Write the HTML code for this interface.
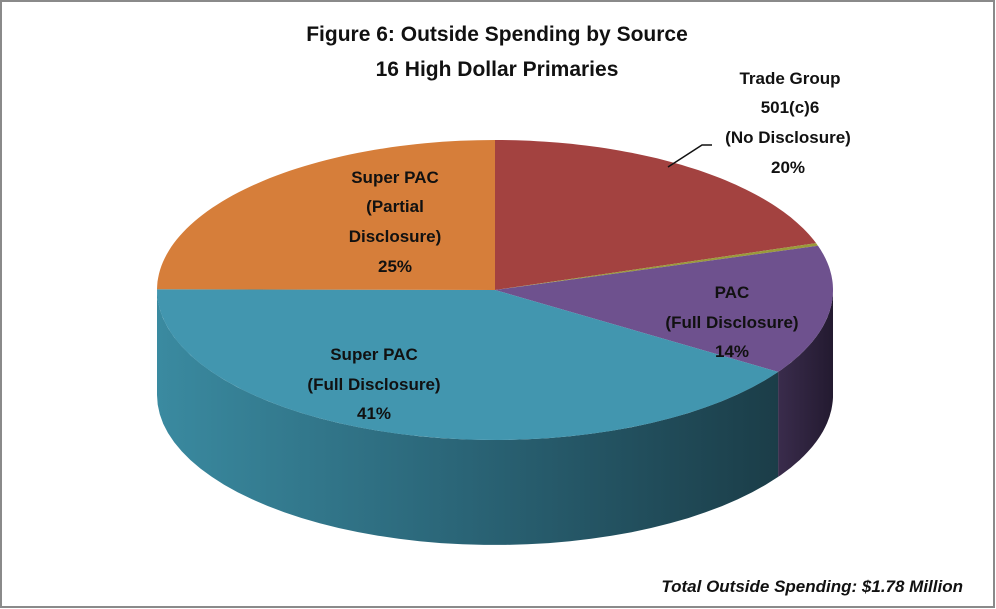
<!DOCTYPE html>
<html><head><meta charset="utf-8">
<style>
html,body{margin:0;padding:0;background:#fff;}
svg{display:block;font-family:"Liberation Sans",sans-serif;}
</style></head>
<body>
<svg id="chart" width="996" height="609" viewBox="0 0 996 609">
  <defs>
    <linearGradient id="gTeal" x1="0" x2="1" y1="0" y2="0">
      <stop offset="0" stop-color="#3a8aa0"/>
      <stop offset="0.5" stop-color="#2a6476"/>
      <stop offset="1" stop-color="#1b3d48"/>
    </linearGradient>
    <linearGradient id="gPurple" x1="0" x2="1"><stop offset="0" stop-color="#3a2c4c"/><stop offset="1" stop-color="#231a30"/></linearGradient>
    <linearGradient id="gOrange" x1="0" x2="1"><stop offset="0" stop-color="#b8652a"/><stop offset="1" stop-color="#8a4a1e"/></linearGradient>
    <linearGradient id="gRed" x1="0" x2="1"><stop offset="0" stop-color="#7a2e2d"/><stop offset="1" stop-color="#5a2221"/></linearGradient>
  </defs>
  <rect x="1" y="1" width="993" height="606" fill="#fff" stroke="#8a8a8a" stroke-width="2"/>
  <text x="497" y="41" text-anchor="middle" font-size="21" font-weight="bold" fill="#111">Figure 6: Outside Spending by Source</text>
  <text x="497" y="76" text-anchor="middle" font-size="21" font-weight="bold" fill="#111">16 High Dollar Primaries</text>
  <g id="sides"></g>
  <g id="tops"></g>
  <polyline points="668,167 702,145 712,145" fill="none" stroke="#111" stroke-width="1.5"/>
  <g font-size="17" font-weight="bold" fill="#111" text-anchor="middle">
    <g>
      <text x="790" y="84">Trade Group</text>
      <text x="790" y="113">501(c)6</text>
      <text x="788" y="143">(No Disclosure)</text>
      <text x="788" y="173">20%</text>
    </g>
    <g>
      <text x="395" y="183">Super PAC</text>
      <text x="395" y="212">(Partial</text>
      <text x="395" y="242">Disclosure)</text>
      <text x="395" y="272">25%</text>
    </g>
    <g>
      <text x="732" y="298">PAC</text>
      <text x="732" y="328">(Full Disclosure)</text>
      <text x="732" y="357">14%</text>
    </g>
    <g>
      <text x="374" y="360">Super PAC</text>
      <text x="374" y="390">(Full Disclosure)</text>
      <text x="374" y="419">41%</text>
    </g>
  </g>
  <text x="963" y="592" text-anchor="end" font-size="17" font-weight="bold" font-style="italic" fill="#111">Total Outside Spending: $1.78 Million</text>
</svg>
<script>
const categories = ["Trade Group 501(c)6 (No Disclosure)", "Other", "PAC (Full Disclosure)", "Super PAC (Full Disclosure)", "Super PAC (Partial Disclosure)"];
const values = [20, 0.3, 14, 41, 25];
const topColors = ["#a34240", "#9a9a3a", "#6e518e", "#4296af", "#d67e3a"];
const sideFills = ["url(#gRed)", "#6a6a28", "url(#gPurple)", "url(#gTeal)", "url(#gOrange)"];
const sliceNames = ["slice-trade-group", "slice-other", "slice-pac-full", "slice-super-pac-full", "slice-super-pac-partial"];

const cx = 495, cy = 290, rx = 338, ry = 150, depth = 105;
const NS = "http://www.w3.org/2000/svg";
function pt(t, dy) { return [cx + rx * Math.sin(t), cy - ry * Math.cos(t) + (dy || 0)]; }
const total = values.reduce((a, b) => a + b, 0);
const sides = document.getElementById("sides");
const tops = document.getElementById("tops");
let acc = 0;
values.forEach((v, i) => {
  const a0 = acc / total * 2 * Math.PI;
  acc += v;
  const a1 = acc / total * 2 * Math.PI;
  // side (front half only: t in [PI/2, 3PI/2])
  const s0 = Math.max(a0, Math.PI / 2), s1 = Math.min(a1, 3 * Math.PI / 2);
  if (s1 > s0) {
    const N = 40;
    let d = "";
    for (let k = 0; k <= N; k++) { const p = pt(s0 + (s1 - s0) * k / N); d += (k ? "L" : "M") + p[0].toFixed(1) + "," + p[1].toFixed(1); }
    for (let k = N; k >= 0; k--) { const p = pt(s0 + (s1 - s0) * k / N, depth); d += "L" + p[0].toFixed(1) + "," + p[1].toFixed(1); }
    d += "Z";
    const sp = document.createElementNS(NS, "path");
    sp.setAttribute("d", d);
    sp.setAttribute("fill", sideFills[i]);
    
    
    sides.appendChild(sp);
  }
  // top
  const N = 60;
  let d = "M" + cx + "," + cy;
  for (let k = 0; k <= N; k++) { const p = pt(a0 + (a1 - a0) * k / N); d += "L" + p[0].toFixed(1) + "," + p[1].toFixed(1); }
  d += "Z";
  const tp = document.createElementNS(NS, "path");
  tp.setAttribute("d", d);
  tp.setAttribute("fill", topColors[i]);
  
  
  tops.appendChild(tp);
});
</script>
</body></html>
